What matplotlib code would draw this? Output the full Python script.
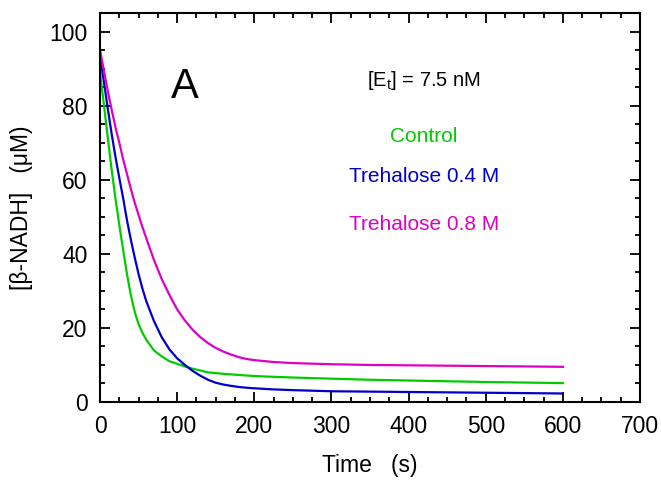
import matplotlib
matplotlib.use("Agg")
import matplotlib.pyplot as plt
from matplotlib.ticker import MultipleLocator

plt.rcParams['font.family'] = ['Liberation Sans', 'DejaVu Sans']

# time points (s) and NADH values (uM)
time_s = [0, 5, 10, 15, 20, 25, 30, 35, 40, 45, 50, 55, 60, 70, 80, 90, 100,
          110, 120, 130, 140, 150, 160, 170, 180, 190, 200, 225, 250, 300,
          350, 400, 450, 500, 550, 600]
control = [89, 80.3, 71.5, 62.8, 55, 47.8, 41, 34.5, 28.8, 24.3, 21.0, 18.7,
           16.8, 13.9, 12.3, 11.0, 10.3, 9.6, 9.0, 8.5, 8.0, 7.8, 7.6, 7.45,
           7.3, 7.15, 7.0, 6.8, 6.6, 6.3, 6.0, 5.8, 5.6, 5.4, 5.25, 5.1]
treh_04 = [93, 86.5, 79.3, 72.5, 66.2, 60.5, 55, 49.0, 43.8, 39.0, 34.5,
           30.6, 27.2, 21.8, 17.5, 14.2, 11.8, 10.0, 8.4, 7.1, 6.0, 5.2, 4.7,
           4.35, 4.05, 3.85, 3.7, 3.4, 3.2, 2.9, 2.8, 2.7, 2.6, 2.5, 2.4, 2.3]
treh_08 = [95, 89.5, 84, 79, 74.2, 70, 65.5, 61.5, 57.5, 53.8, 50.5, 47.2,
           44.2, 38.3, 33.2, 28.9, 25.0, 22.0, 19.5, 17.5, 15.9, 14.6, 13.6,
           12.8, 12.1, 11.6, 11.3, 10.8, 10.5, 10.2, 10.0, 9.9, 9.8, 9.7,
           9.6, 9.5]

series_names = ['Control', 'Trehalose 0.4 M', 'Trehalose 0.8 M']
series_colors = ['#00cc00', '#0000cc', '#dd00c8']

fig = plt.figure(figsize=(6.61, 4.83), dpi=100)
ax = fig.add_axes([0.1513, 0.1677, 0.8170, 0.8054])

for vals, col in zip([control, treh_04, treh_08], series_colors):
    ax.plot(time_s, vals, color=col, lw=1.6)

ax.set_xlim(0, 700)
ax.set_ylim(0, 105)
ax.xaxis.set_major_locator(MultipleLocator(100))
ax.xaxis.set_minor_locator(MultipleLocator(25))
ax.yaxis.set_major_locator(MultipleLocator(20))
ax.yaxis.set_minor_locator(MultipleLocator(5))
ax.tick_params(which='both', direction='in', top=True, right=True,
               width=1.3, labelsize=16.5, pad=9)
ax.tick_params(which='major', length=7)
ax.tick_params(which='minor', length=3.5)
for sp in ax.spines.values():
    sp.set_linewidth(1.5)

ax.set_xlabel('Time   (s)', fontsize=16.5, labelpad=12)
ax.set_ylabel('[β-NADH]   (μM)', fontsize=16.5, labelpad=12)

ax.text(110, 85, 'A', fontsize=30, ha='center', va='center')
ax.text(420, 86.8, r'[E$_\mathregular{t}$] = 7.5 nM', fontsize=14.5,
        ha='center', va='center')
for name, col, yv in zip(series_names, series_colors, [71.6, 60.8, 47.8]):
    ax.text(420, yv, name, color=col, fontsize=15, ha='center', va='center')

fig.savefig('out.png', dpi=100)
